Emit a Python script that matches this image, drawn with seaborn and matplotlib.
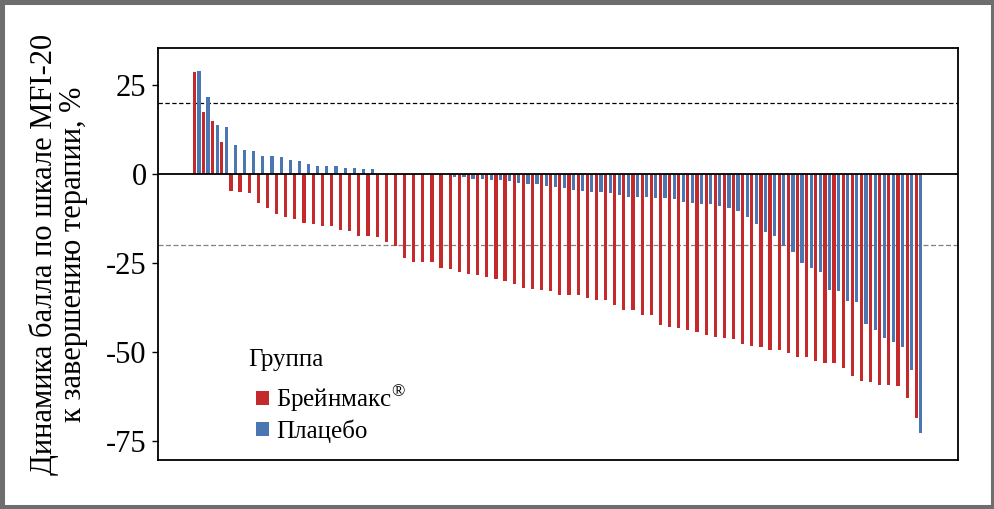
import numpy as np
import pandas as pd
import matplotlib.pyplot as plt
from matplotlib.patches import Rectangle
import seaborn as sns

sns.set_theme(style="white")
plt.rcParams["font.family"] = ["Liberation Serif", "DejaVu Serif"]
plt.rcParams["axes.unicode_minus"] = False
plt.rcParams["mathtext.fontset"] = "custom"
plt.rcParams["mathtext.rm"] = "Liberation Serif"
plt.rcParams["text.color"] = "black"
plt.rcParams["axes.labelcolor"] = "black"
plt.rcParams["ytick.color"] = "black"

# DATA: change of MFI-20 score (%), each group sorted separately
brainmax = [28.7, 17.4, 14.9, 9.0, -4.7, -5.0, -5.2, -8.2, -9.5, -11.1,
            -12.0, -12.6, -13.7, -14.1, -14.5, -14.5, -15.7, -16.0, -17.3, -17.3,
            -17.7, -19.0, -20.1, -23.5, -24.6, -24.6, -24.6, -26.3, -26.6, -27.6,
            -28.0, -28.3, -28.9, -29.4, -30.0, -30.8, -32.0, -32.2, -32.5, -32.8,
            -33.9, -33.9, -33.9, -34.8, -35.3, -35.3, -36.7, -38.1, -38.2, -39.6,
            -39.7, -42.5, -42.9, -43.2, -43.8, -44.3, -45.2, -45.7, -46.0, -46.3,
            -47.7, -48.3, -48.5, -49.4, -49.4, -50.2, -51.4, -51.5, -52.5, -53.0,
            -53.2, -54.6, -56.7, -58.1, -58.4, -59.2, -59.2, -59.5, -62.9, -68.5]
placebo = [29.0, 21.7, 13.8, 13.2, 8.3, 6.9, 6.5, 5.2, 5.2, 4.8,
           3.9, 3.7, 2.8, 2.4, 2.4, 2.2, 1.7, 1.7, 1.4, 1.4,
           0, 0, 0, 0, 0, 0, 0, 0, -0.9, -0.9,
           -1.3, -1.3, -1.6, -1.6, -1.9, -2.4, -2.7, -2.7, -3.3, -3.7,
           -3.8, -4.4, -4.7, -5.0, -5.0, -5.2, -5.8, -6.4, -6.4, -6.4,
           -6.7, -6.7, -6.9, -7.8, -8.1, -8.3, -8.3, -8.9, -9.5, -10.3,
           -12.0, -14.0, -16.2, -17.3, -20.2, -21.8, -24.9, -26.3, -27.5, -32.5,
           -32.8, -35.6, -35.9, -42.1, -43.8, -46.0, -47.1, -48.5, -55.0, -72.7]
groups = ["Брейнмакс$^{®}$", "Плацебо"]
colors = ["#C42A2C", "#4A77B1"]
yticks = [25, 0, -25, -50, -75]
ytick_labels = ["25", "0", "-25", "-50", "-75"]
ylabel = "Динамика балла по шкале MFI-20\nк завершению терапии, %"

n = len(brainmax)
df = pd.DataFrame({
    "rank": list(range(n)) * 2,
    "value": brainmax + placebo,
    "group": [groups[0]] * n + [groups[1]] * n,
})

fig = plt.figure(figsize=(9.95, 5.09), dpi=100)
ax = fig.add_axes([0.1585, 0.0963, 0.804, 0.8087])

# reference lines
ax.axhline(20, color="black", lw=0.9, ls=(0, (3.5, 2)), zorder=0.5)
ax.axhline(-20, color="#808080", lw=0.9, ls=(0, (4, 2)), zorder=0.5)

sns.barplot(data=df, x="rank", y="value", hue="group", hue_order=groups,
            palette=colors, width=1.0, gap=0.3, errorbar=None,
            saturation=1, linewidth=0, ax=ax)
ax.axhline(0, color="black", lw=1.3, zorder=3)

ax.set_xlim(-4.26, n - 1 + 4.28)
ax.set_ylim(-80.4, 35.35)
ax.set_xticks([])
ax.set_xlabel("")
ax.set_yticks(yticks)
ax.set_yticklabels(ytick_labels, fontsize=22)
ax.tick_params(axis="y", direction="out", length=4, width=1, color="black",
               pad=4, left=True)
ax.set_ylabel(ylabel, fontsize=22, linespacing=0.98, labelpad=13)
for s in ax.spines.values():
    s.set_color("black")
    s.set_linewidth(1.3)

sns.move_legend(ax, loc="upper left", bbox_to_anchor=(0.113, 0.27),
                frameon=False, title="Группа", fontsize=18, title_fontsize=18,
                alignment="left", handlelength=0.5, handleheight=0.5,
                handletextpad=0.3, labelspacing=0.22, borderpad=0,
                borderaxespad=0)
leg = ax.get_legend()
leg._legend_box.sep = 3
leg._legend_handle_box.pad = 6  # indent entries under the title

# grey outer border
fig.add_artist(Rectangle((0, 0), 1, 1, transform=fig.transFigure, fill=False,
                         edgecolor="#6e6e6e", lw=6.5))

fig.savefig("out.png", dpi=100)
